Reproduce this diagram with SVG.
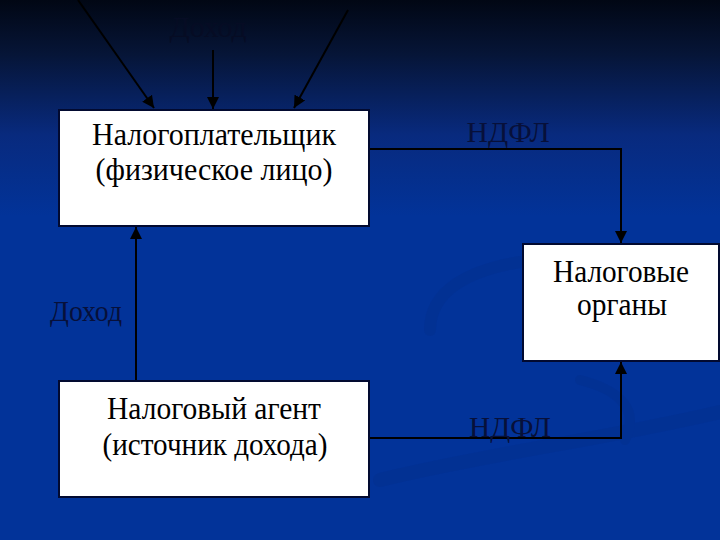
<svg xmlns="http://www.w3.org/2000/svg" width="720" height="540" viewBox="0 0 720 540">
<defs>
<linearGradient id="bg" x1="0" y1="0" x2="0" y2="1">
<stop offset="0" stop-color="#010714"/>
<stop offset="0.1" stop-color="#061537"/>
<stop offset="0.25" stop-color="#082a7e"/>
<stop offset="0.4" stop-color="#023399"/>
<stop offset="1" stop-color="#023399"/>
</linearGradient>
<marker id="ah" viewBox="0 0 12 12" refX="12" refY="6" markerWidth="12" markerHeight="12" markerUnits="userSpaceOnUse" orient="auto">
<path d="M0,0 L12,6 L0,12 Z" fill="#000"/>
</marker>
<style>
.box{fill:#fff;stroke:#020a30;stroke-width:2}
text{font-family:"Liberation Serif","Times New Roman",serif}
.t{font-size:31px;fill:#000;text-anchor:middle}
.lbl{font-size:30px;fill:#07103a;text-anchor:middle}
.c{fill:none;stroke:#000;stroke-width:2}
.cm{fill:none;stroke:#000;stroke-width:2;marker-end:url(#ah)}
</style>
</defs>
<rect width="720" height="540" fill="url(#bg)"/>
<g id="swirl" fill="none" stroke="#03308f" stroke-linecap="round" opacity="0.5">
<path d="M430,330 C430,290 470,270 520,262" stroke-width="12"/>
<path d="M380,480 C480,455 600,440 720,412" stroke-width="14"/>
<path d="M580,380 C620,390 640,410 625,440" stroke-width="10"/>
</g>
<g id="connectors">
<line class="cm" x1="78" y1="0" x2="154" y2="108"/>
<line class="cm" x1="213" y1="50" x2="213" y2="109"/>
<line class="cm" x1="348" y1="10" x2="294" y2="108"/>
<polyline class="cm" points="369,149 621,149 621,243"/>
<polyline class="cm" points="369,438 621,438 621,362"/>
<line class="c" x1="136" y1="381" x2="136" y2="240" stroke-width="1.5"/>
<line class="cm" x1="136" y1="241" x2="136" y2="227"/>
</g>
<g id="labels">
<text class="lbl" x="208" y="37" style="fill:#060c24" textLength="77" lengthAdjust="spacingAndGlyphs">Доход</text>
<text class="lbl" x="86" y="321" textLength="72" lengthAdjust="spacingAndGlyphs">Доход</text>
<text class="lbl" x="508" y="142" textLength="83" lengthAdjust="spacingAndGlyphs">НДФЛ</text>
<text class="lbl" x="510" y="437" textLength="82" lengthAdjust="spacingAndGlyphs">НДФЛ</text>
</g>
<g id="taxpayer">
<rect class="box" x="59" y="110" width="310" height="116"/>
<text class="t" x="214" y="145" textLength="244" lengthAdjust="spacingAndGlyphs">Налогоплательщик</text>
<text class="t" x="214" y="180" textLength="237" lengthAdjust="spacingAndGlyphs">(физическое лицо)</text>
</g>
<g id="tax-authorities">
<rect class="box" x="523" y="244" width="196" height="117"/>
<text class="t" x="621" y="282" textLength="136" lengthAdjust="spacingAndGlyphs">Налоговые</text>
<text class="t" x="622" y="315" textLength="90" lengthAdjust="spacingAndGlyphs">органы</text>
</g>
<g id="tax-agent">
<rect class="box" x="59" y="381" width="310" height="116"/>
<text class="t" x="214" y="419" textLength="214" lengthAdjust="spacingAndGlyphs">Налоговый агент</text>
<text class="t" x="215" y="455" textLength="225" lengthAdjust="spacingAndGlyphs">(источник дохода)</text>
</g>
</svg>
